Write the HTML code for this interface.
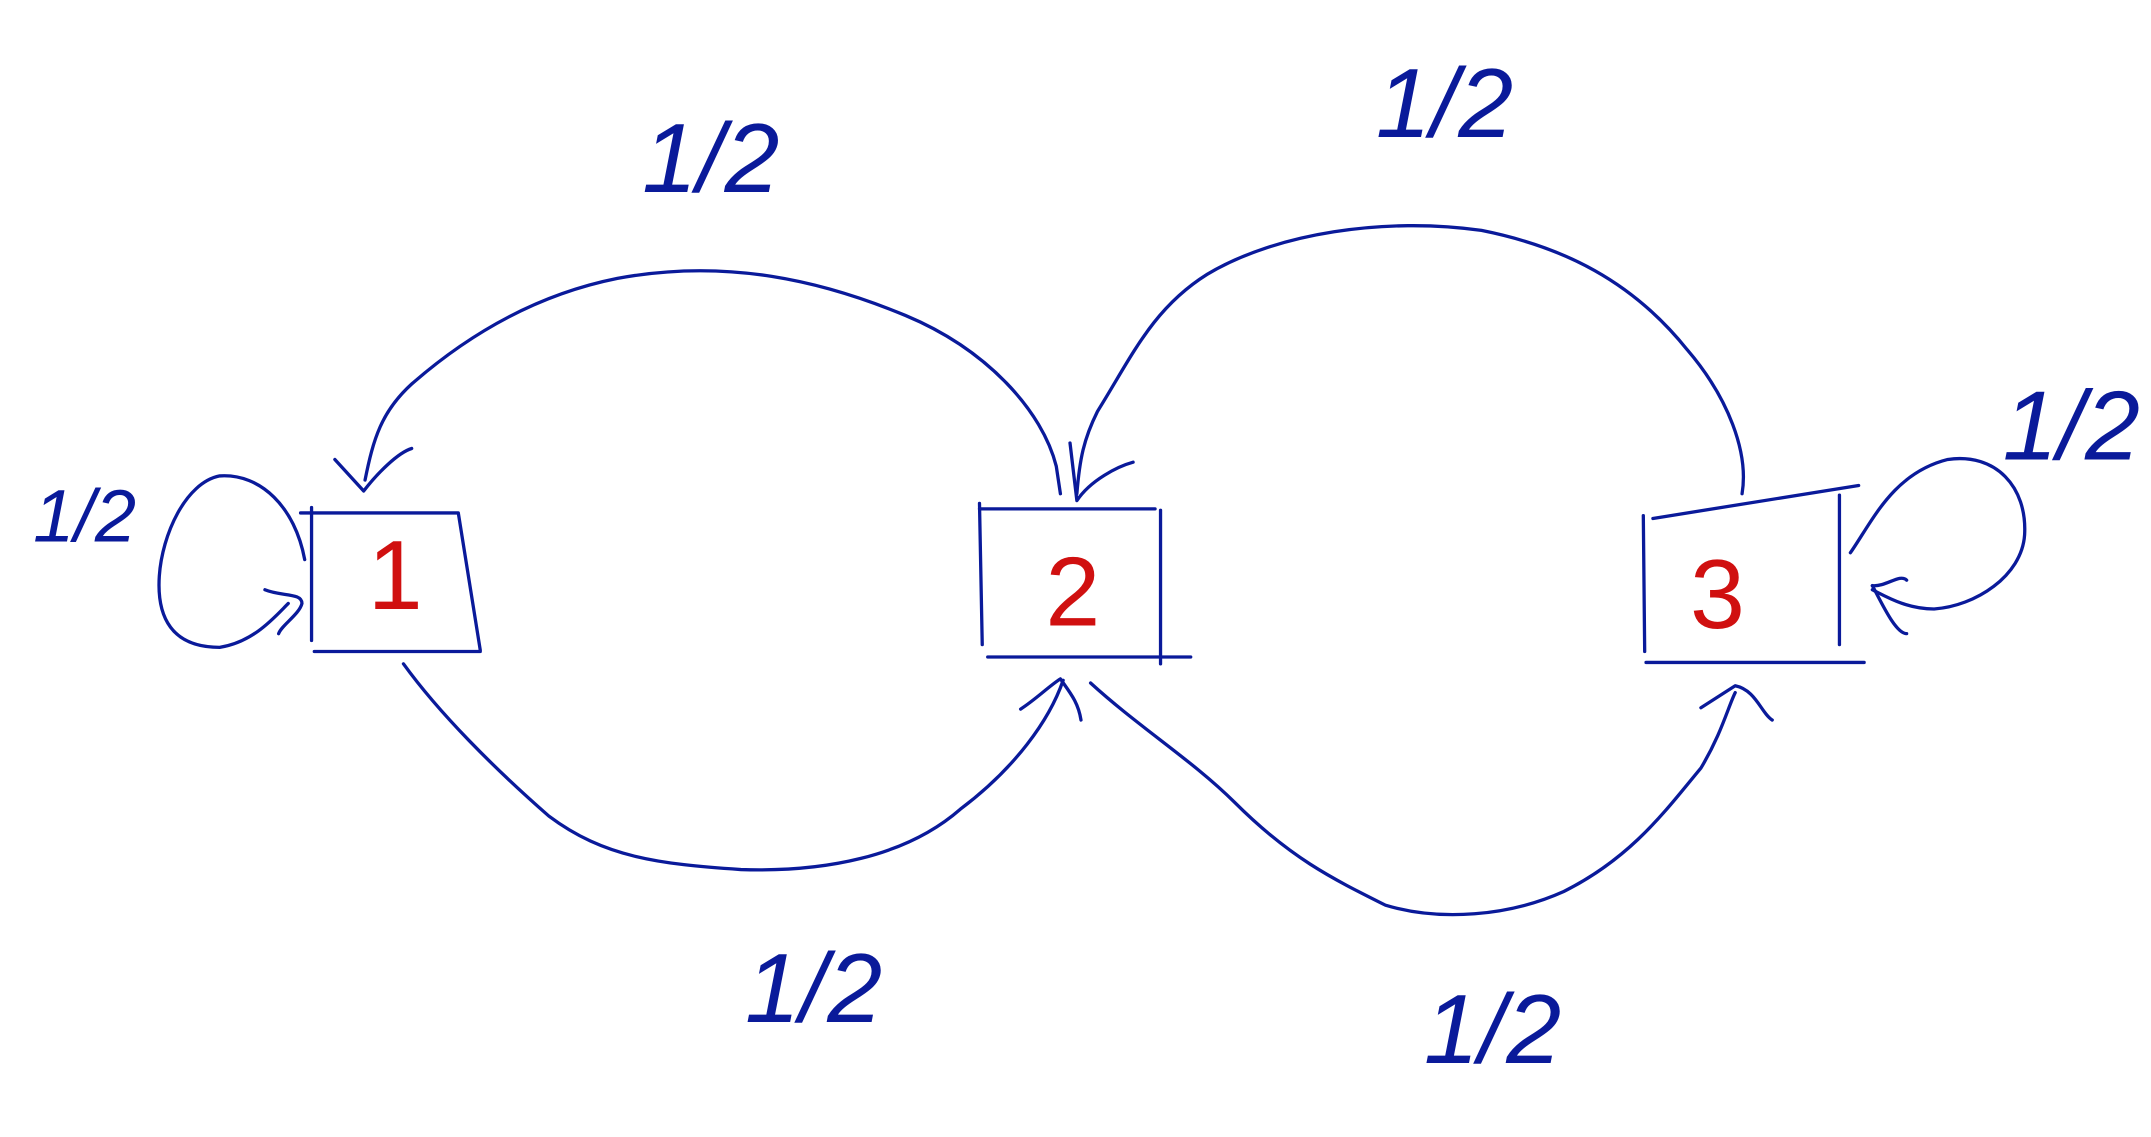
<!DOCTYPE html>
<html><head><style>html,body{margin:0;padding:0;background:#fff;width:2151px;height:1137px;overflow:hidden}</style></head>
<body>
<svg width="2151" height="1137" viewBox="0 0 1568 829" xmlns="http://www.w3.org/2000/svg">
<g fill="none" stroke="#0a1a9a" stroke-width="2.4" stroke-linecap="round" stroke-linejoin="round">
<path d="M219,374 L334,374 L350,474"/><path d="M229,475 L350,475"/><path d="M227,370 L227,467"/>
<path d="M714,371 L842,371"/><path d="M846,372 L846,484"/><path d="M720,479 L868,479"/><path d="M714,367 L716,470"/>
<path d="M1205,378 L1355,354"/><path d="M1341,361 L1341,470"/><path d="M1200,483 L1359,483"/><path d="M1198,376 L1199,475"/>
<path d="M266,350 C272,320 278,300 300,280 C340,245 390,215 450,203 C530,188 600,205 660,230 C720,255 760,300 770,340 L773,360"/>
<path d="M244,335 L265,358 C275,345 290,330 300,327"/>
<path d="M1270,360 C1275,330 1260,290 1230,255 C1190,205 1140,180 1080,168 C1010,158 930,170 880,200 C840,225 825,260 800,300 C790,320 787,335 785,360"/>
<path d="M780,323 L785,365 C795,350 815,340 826,337"/>
<path d="M294,484 C320,520 360,560 400,595 C440,625 480,630 540,634 C600,636 660,625 700,590 C740,560 765,525 775,496"/>
<path d="M744,517 C755,510 765,500 773,495 C780,505 786,512 788,525"/>
<path d="M795,498 C830,530 870,555 900,585 C940,625 970,640 1010,660 C1050,672 1100,668 1140,650 C1190,625 1215,590 1240,560 C1255,535 1260,515 1265,505"/>
<path d="M1240,516 L1265,500 C1280,503 1284,520 1292,525"/>
<path d="M222,408 C215,370 190,345 160,347 C135,352 118,390 116,420 C114,450 125,472 160,472 C185,468 200,450 210,440"/>
<path d="M193,430 C205,435 220,432 220,440 C218,448 205,456 203,462"/>
<path d="M1349,403 C1365,380 1380,345 1420,335 C1455,330 1478,355 1476,390 C1474,420 1440,442 1410,444 C1390,444 1375,435 1365,430"/>
<path d="M1365,427 C1375,428 1385,418 1390,423"/><path d="M1365,427 C1372,440 1382,462 1390,462"/>
</g>
<g fill="#0a1a9a" font-family="Liberation Sans, sans-serif" font-style="italic" font-size="72">
<text x="468" y="140">1/2</text>
<text x="1003" y="100">1/2</text>
<text x="24" y="395" font-size="54">1/2</text>
<text x="1460" y="335">1/2</text>
<text x="543" y="745">1/2</text>
<text x="1038" y="775">1/2</text>
</g>
<g fill="#d01010" font-family="Liberation Sans, sans-serif" font-size="72">
<text x="268" y="444">1</text>
<text x="762" y="456">2</text>
<text x="1232" y="458">3</text>
</g>
</svg>
</body></html>
